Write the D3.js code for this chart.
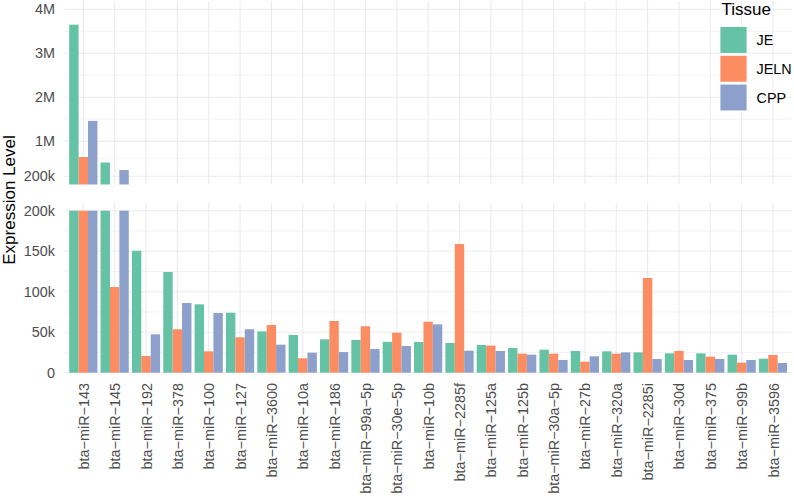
<!DOCTYPE html>
<html lang="en">
<head>
<meta charset="UTF-8">
<title>Expression Level by Tissue</title>
<script src="https://d3js.org/d3.v7.min.js"></script>
<style>
    body { margin: 0; background: #fff; }
    svg { display: block; font-family: "Liberation Sans", Arial, Helvetica, sans-serif; }
    .axis text { fill: #4d4d4d; font-size: 14.4px; }
    .axis path, .axis line { display: none; }
</style>
</head>
<body>
<svg width="794" height="499"></svg>
<script>
// data
const categories = ["bta-miR-143", "bta-miR-145", "bta-miR-192", "bta-miR-378", "bta-miR-100",
    "bta-miR-127", "bta-miR-3600", "bta-miR-10a", "bta-miR-186", "bta-miR-99a-5p",
    "bta-miR-30e-5p", "bta-miR-10b", "bta-miR-2285f", "bta-miR-125a", "bta-miR-125b",
    "bta-miR-30a-5p", "bta-miR-27b", "bta-miR-320a", "bta-miR-2285i", "bta-miR-30d",
    "bta-miR-375", "bta-miR-99b", "bta-miR-3596"];
const tissues = ["JE", "JELN", "CPP"];
const jeValues = [3650000, 513000, 150600, 124300, 84400, 74000, 51000, 46500, 41200, 40400,
    38100, 37900, 36700, 34200, 30500, 28400, 26800, 26400, 25100, 23900, 23900, 22300, 17300];
const jelnValues = [640000, 105800, 20600, 53600, 26400, 43700, 58900, 17800, 63800, 57300,
    49400, 63000, 158900, 33400, 23500, 23500, 13600, 23500, 116900, 26800, 19800, 12400, 21900];
const cppValues = [1460000, 344000, 47400, 86000, 73700, 53600, 34600, 24700, 25500, 29300,
    33000, 59700, 27200, 26800, 22300, 15700, 20200, 25100, 16900, 15700, 16900, 15700, 12000];
const upperTicks = [200000, 1000000, 2000000, 3000000, 4000000];
const upperLabels = ["200k", "1M", "2M", "3M", "4M"];
const upperMinor = [600000, 1500000, 2500000, 3500000];
const lowerTicks = [0, 50000, 100000, 150000, 200000];
const lowerLabels = ["0", "50k", "100k", "150k", "200k"];
const lowerMinor = [25000, 75000, 125000, 175000];
const breakAt = 200000;

const colors = d3.scaleOrdinal().domain(tissues).range(["#66C2A5", "#FC8D62", "#8DA0CB"]);
const seriesValues = { JE: jeValues, JELN: jelnValues, CPP: cppValues };

const rows = [];
categories.forEach((c, i) => {
    tissues.forEach(t => rows.push({ cat: c, tissue: t, value: seriesValues[t][i] }));
});

const svg = d3.select("svg");
const left = 64.5, right = 791.8;

const x = d3.scalePoint().domain(categories).range([left, right]).padding(0.6);
const groupW = x.step() * 0.9;
const dodge = d3.scaleBand().domain(tissues).range([-groupW / 2, groupW / 2]);

// two panels of the broken axis
const upper = { top: 1, bottom: 184.5,
    y: d3.scaleLinear().domain([breakAt, 4000000]).range([176.3, 9.3]) };
const lower = { top: 203, bottom: 373,
    y: d3.scaleLinear().domain([0, breakAt]).range([372.7, 210.7]) };

function grid(panel, major, minor) {
    const g = svg.append("g");
    g.selectAll(".minor").data(minor).enter().append("line")
        .attr("x1", left).attr("x2", right)
        .attr("y1", d => panel.y(d)).attr("y2", d => panel.y(d))
        .attr("stroke", "#ebebeb").attr("stroke-width", 0.6);
    g.selectAll(".major").data(major).enter().append("line")
        .attr("x1", left).attr("x2", right)
        .attr("y1", d => panel.y(d)).attr("y2", d => panel.y(d))
        .attr("stroke", "#ebebeb").attr("stroke-width", 1.1);
    g.selectAll(".vert").data(categories).enter().append("line")
        .attr("x1", d => x(d)).attr("x2", d => x(d))
        .attr("y1", panel.top).attr("y2", panel.bottom)
        .attr("stroke", "#ebebeb").attr("stroke-width", 1.1);
}
grid(upper, upperTicks, upperMinor);
grid(lower, lowerTicks, lowerMinor);

// upper panel: only the part above the break
svg.append("g").selectAll("rect")
    .data(rows.filter(d => d.value > breakAt))
    .enter().append("rect")
    .attr("x", d => x(d.cat) + dodge(d.tissue))
    .attr("width", dodge.bandwidth())
    .attr("y", d => upper.y(d.value))
    .attr("height", d => upper.bottom - upper.y(d.value))
    .attr("fill", d => colors(d.tissue));

// lower panel: clipped at the break
svg.append("g").selectAll("rect")
    .data(rows)
    .enter().append("rect")
    .attr("x", d => x(d.cat) + dodge(d.tissue))
    .attr("width", dodge.bandwidth())
    .attr("y", d => lower.y(Math.min(d.value, breakAt)))
    .attr("height", d => lower.y(0) - lower.y(Math.min(d.value, breakAt)))
    .attr("fill", d => colors(d.tissue));

// y axes
svg.append("g").attr("class", "axis").attr("transform", "translate(58,0)")
    .call(d3.axisLeft(upper.y).tickValues(upperTicks).tickSize(0).tickPadding(3)
        .tickFormat((d, i) => upperLabels[i]));
svg.append("g").attr("class", "axis").attr("transform", "translate(58,0)")
    .call(d3.axisLeft(lower.y).tickValues(lowerTicks).tickSize(0).tickPadding(3)
        .tickFormat((d, i) => lowerLabels[i]));

// x axis
svg.append("g").attr("class", "axis").attr("transform", "translate(0,380)")
    .call(d3.axisBottom(x).tickSize(0).tickFormat(d => d.replace(/-/g, "\u2212")))
    .selectAll("text")
    .attr("transform", "rotate(-90)")
    .attr("x", -3).attr("y", 0).attr("dy", "0.35em")
    .style("text-anchor", "end");

svg.append("text")
    .attr("transform", "translate(15,200) rotate(-90)")
    .attr("text-anchor", "middle")
    .attr("font-size", 17)
    .attr("fill", "#000")
    .text("Expression Level");

// legend
const legend = svg.append("g").attr("transform", "translate(720,0)");
legend.append("text").attr("x", 1.5).attr("y", 15)
    .attr("font-size", 17).attr("fill", "#000").text("Tissue");
const item = legend.selectAll(".item").data(tissues).enter().append("g")
    .attr("transform", (d, i) => `translate(0,${26.5 + i * 28.8})`);
item.append("rect").attr("width", 27).attr("height", 26.8)
    .attr("fill", d => colors(d)).attr("stroke", "#fff").attr("stroke-width", 0.8);
item.append("text").attr("x", 36.5).attr("y", 13.4).attr("dy", "0.35em")
    .attr("font-size", 14.4).attr("fill", "#000").text(d => d);
</script>
</body>
</html>
